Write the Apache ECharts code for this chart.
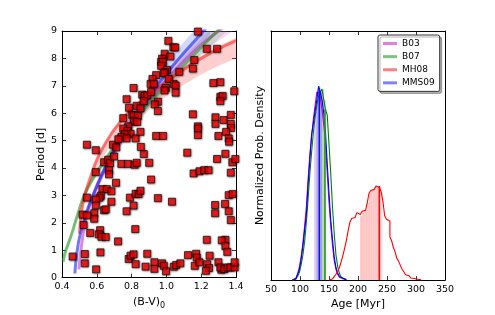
<!DOCTYPE html>
<html><head><meta charset="utf-8">
<script src="https://cdn.jsdelivr.net/npm/echarts@6/dist/echarts.min.js"></script>
<style>html,body{margin:0;padding:0;background:#fff}#c{width:495px;height:315px}</style>
</head><body><div id="c"></div>
<script>
// ---- Left panel: stars ----
const bv = [0.543,0.594,0.642,0.665,0.676,0.699,0.693,0.712,0.741,0.779,0.817,0.829,0.901,0.870,0.853,
1.011,1.181,0.990,1.023,1.040,1.050,0.975,0.970,0.980,0.970,1.003,0.992,0.985,1.074,1.013,0.941,0.920,0.909,0.928,0.996,0.989,1.042,1.053,1.053,0.811,0.861,0.874,0.890,0.912,0.870,0.771,0.785,0.829,0.851,0.951,0.933,0.951,0.752,0.804,0.813,0.836,0.813,0.832,0.781,0.752,0.775,0.794,0.760,0.741,0.771,0.724,0.823,0.851,0.941,0.981,
1.232,1.291,1.160,1.152,1.270,1.310,1.390,1.310,1.323,1.310,1.152,1.282,1.329,1.370,1.370,1.282,1.371,1.181,1.181,1.181,1.299,1.343,1.358,1.360,1.120,1.339,1.291,1.379,1.396,
0.670,0.670,0.594,0.710,0.912,1.156,1.190,1.217,1.242,1.370,
0.632,0.657,0.684,0.623,0.615,0.594,0.594,0.543,0.684,0.642,0.651,0.585,0.585,0.790,0.823,0.840,0.851,0.811,0.771,0.951,1.032,1.280,1.337,1.358,1.381,1.370,1.280,1.358,
0.518,0.543,0.524,0.562,0.619,0.611,0.627,0.651,0.821,0.722,1.232,1.339,1.318,1.339,1.350,0.621,0.461,0.531,0.531,0.596,0.783,0.794,0.811,0.890,0.823,0.880,0.931,0.931,0.975,0.985,0.998,1.042,1.056,1.080,1.124,1.171,1.174,1.163,1.190,1.248,1.234,1.245,1.227,1.299,1.316,1.310,1.333,1.352,1.368,1.392,1.392];
const period = [4.85,4.65,4.21,4.30,4.18,4.42,4.85,4.75,4.15,4.15,4.12,4.19,4.19,4.51,4.77,
8.64,8.98,8.17,8.07,8.40,8.40,7.99,7.87,7.87,7.73,7.58,7.49,7.46,7.51,7.25,7.39,7.25,7.07,7.07,6.92,6.83,7.07,7.01,6.75,6.92,6.68,6.63,6.65,6.77,6.44,6.51,6.20,6.27,6.18,6.42,6.32,6.08,5.82,5.94,5.92,5.90,5.70,5.68,5.52,5.44,5.35,5.25,5.23,5.13,5.08,5.05,5.08,5.32,5.17,5.17,
8.35,8.35,7.94,7.63,7.10,7.13,6.80,6.60,6.63,6.44,5.96,5.85,5.75,5.94,5.61,5.61,5.46,5.52,5.44,5.20,5.17,5.32,5.08,4.96,4.56,4.52,4.33,4.21,4.33,
3.92,3.77,3.85,3.46,3.58,3.80,3.88,3.92,3.92,3.83,
3.23,3.23,3.15,2.99,2.92,2.85,2.63,2.92,2.77,2.46,2.49,2.35,2.15,2.92,3.06,3.05,3.17,2.63,2.42,2.90,2.77,2.65,2.69,3.01,3.05,2.10,2.35,2.42,
2.30,2.27,1.92,1.63,1.73,1.58,1.49,1.48,1.77,1.32,1.38,1.38,1.36,1.15,0.94,0.92,0.77,0.86,0.52,0.30,0.68,0.80,0.85,0.87,0.49,0.40,0.56,0.32,0.52,0.43,0.23,0.40,0.46,0.52,0.82,0.87,0.73,0.43,0.56,0.80,0.49,0.35,0.25,0.56,0.29,0.37,0.31,0.37,0.37,0.37,0.56];

// ---- Left panel: gyrochronology curves ----
const b03X  = [0.497,0.505,0.515,0.53,0.55,0.60,0.65,0.70,0.80,0.90,1.00,1.10,1.20,1.30,1.40];
const b03P  = [0.30,0.80,1.30,1.90,2.45,3.30,4.00,4.60,5.60,6.45,7.20,7.90,8.50,9.00,9.45];
const b03Lo = [0.29,0.77,1.25,1.82,2.35,3.17,3.84,4.42,5.38,6.19,6.91,7.58,8.16,8.64,9.07];
const b03Hi = [0.31,0.83,1.35,1.98,2.55,3.43,4.16,4.78,5.82,6.71,7.49,8.22,8.84,9.36,9.83];

const b07X  = [0.406,0.42,0.453,0.49,0.53,0.60,0.70,0.80,0.90,1.00,1.10,1.20,1.30,1.40];
const b07P  = [0.58,0.95,1.54,2.30,3.05,3.85,4.75,5.60,6.35,7.05,7.75,8.40,9.05,9.65];
const b07Lo = [0.56,0.92,1.49,2.22,2.94,3.71,4.58,5.40,6.12,6.80,7.47,8.10,8.72,9.30];
const b07Hi = [0.60,0.98,1.59,2.38,3.16,3.99,4.92,5.80,6.58,7.30,8.03,8.70,9.38,10.0];

const mh08X  = [0.500,0.505,0.51,0.52,0.53,0.56,0.60,0.65,0.70,0.80,0.90,1.00,1.10,1.20,1.30,1.40];
const mh08P  = [1.60,2.00,2.30,2.70,3.00,3.60,4.30,4.90,5.40,6.15,6.65,7.15,7.60,8.00,8.35,8.65];
const mh08Lo = [1.48,1.85,2.13,2.50,2.78,3.33,3.98,4.54,5.00,5.69,6.16,6.62,7.04,7.41,7.73,8.01];
const mh08Hi = [1.62,2.02,2.33,2.73,3.04,3.64,4.35,4.96,5.46,6.22,6.73,7.24,7.69,8.10,8.45,8.75];

const mms09X  = [0.474,0.48,0.49,0.50,0.52,0.55,0.60,0.65,0.70,0.80,0.90,1.00,1.10,1.20,1.25];
const mms09P  = [0.15,0.60,1.10,1.45,1.95,2.55,3.35,4.05,4.65,5.70,6.60,7.45,8.20,8.90,9.25];
const mms09Lo = [0.14,0.58,1.05,1.39,1.87,2.45,3.20,3.88,4.45,5.45,6.30,7.10,7.85,8.50,8.85];
const mms09Hi = [0.16,0.63,1.15,1.52,2.05,2.67,3.50,4.22,4.86,5.95,6.90,7.80,8.60,9.30,9.65];

const bvTicks = [0.4,0.6,0.8,1.0,1.2,1.4];
const periodTicks = [0,1,2,3,4,5,6,7,8,9];

// ---- Right panel: age histograms (bin width 3 Myr) ----
const binW = 3;
const youngStart = 87;
const histB03   = [0.5,1.0,2.0,3.5,7,12,19,28,38,52,65,74,83,90,97,96,94,88,80,70,55,40,28,18,10,5.5,3,1.5,0.7,0.3,0.1];
const histB07   = [0.2,0.5,1.0,2.0,4.0,8,13,20,30,42,55,66,76,84,90,95,97,98.5,93,88,85,70,55,38,24,13,7,3.5,1.5,0.7,0.3];
const histMMS09 = [0.3,0.8,1.5,3.0,5.5,11,17.5,26,34,50,62,75,81,87,93,100,97,93,86,76,60,45,31,21,12,6.5,3.5,1.8,0.9,0.4,0.2];
const mh08Start = 150;
const histMH08  = [0.3,0.6,1.0,1.8,3.0,4.5,6.5,9.5,12.8,16.5,20.5,25.5,29.8,31.8,32.3,33.0,34.8,33.8,33.2,35.5,36.0,36.4,40.0,44.8,46.2,46.8,47.3,48.5,47.8,48.6,45.5,40.5,33.2,31.4,30.5,22.2,20.3,16.8,14.5,11.2,9.8,7.6,5.6,4.3,2.8,2.2,1.5,1.1,0.8,0.5,0.4,0.2,0.1];
// shaded (1-sigma) ranges and medians
const rangeB03 = [124,137], rangeMMS09 = [128,138], rangeB07 = [136,145];
const rangeMH08 = [203.5,237], rangeMH08b = [237,242.5];
const medMMS09 = [133.3, 99], medB07 = [143, 88], medMH08 = [236.8, 48.5];
const ageTicks = [50,100,150,200,250,300,350];

// ---------------------------------------------
const FONT = 'DejaVu Sans';
function stepData(start, vals){
  const d=[[start,0]];
  vals.forEach((v,i)=>d.push([start+i*binW, v]));
  d.push([start+vals.length*binW, 0]);
  return d;
}
function shadeData(start, vals, rng){
  const d=[];
  vals.forEach((v,i)=>{const l=start+i*binW, r=l+binW; const cl=Math.max(l,rng[0]), cr=Math.min(r,rng[1]); if(cr>cl) d.push([cl,cr,v]);});
  return d;
}
function bandSeries(xs, lo, hi, color){
  return {type:'custom', xAxisIndex:0, yAxisIndex:0, clip:true, silent:true, z:1,
    data:[0],
    renderItem:(p,api)=>{
      const pts=[];
      for(let i=0;i<xs.length;i++) pts.push(api.coord([xs[i],hi[i]]));
      for(let i=xs.length-1;i>=0;i--) pts.push(api.coord([xs[i],lo[i]]));
      return {type:'polygon', shape:{points:pts}, style:{fill:color}};
    }};
}
function curveSeries(name, xs, ys, color){
  return {name, type:'line', xAxisIndex:0, yAxisIndex:0, data:xs.map((x,i)=>[x,ys[i]]),
    smooth:0.3, showSymbol:false, symbol:'none', clip:true, z:2,
    lineStyle:{color, width:3}, itemStyle:{color}};
}
function shadeSeries(start, vals, rng, color){
  return {type:'custom', xAxisIndex:2, yAxisIndex:2, silent:true, z:1, clip:true,
    encode:{x:[0,1], y:2},
    data:shadeData(start, vals, rng),
    renderItem:(p,api)=>{
      const a=api.coord([api.value(0),0]), b=api.coord([api.value(1),api.value(2)]);
      return {type:'rect', shape:{x:a[0], y:b[1], width:b[0]-a[0], height:a[1]-b[1]}, style:{fill:color}};
    }};
}
function histSeries(start, vals, color){
  return {type:'line', xAxisIndex:2, yAxisIndex:2, step:'end', data:stepData(start, vals),
    showSymbol:false, symbol:'none', silent:true, z:3, lineStyle:{color, width:1.1}};
}
function medSeries(m, color){
  return {type:'line', xAxisIndex:2, yAxisIndex:2, data:[[m[0],0],[m[0],m[1]]], showSymbol:false, symbol:'none', silent:true, z:4,
    lineStyle:{color, width:1.6}};
}

const axisLine = {show:true, onZero:false, lineStyle:{color:'#000', width:1}};
const tick = {show:true, inside:true, length:4, lineStyle:{color:'#000', width:0.8}};
const labelStyle = {color:'#000', fontFamily:FONT, fontSize:9.5};
const nameStyle = {color:'#000', fontFamily:FONT, fontSize:11};

const cMag='rgba(200,40,200,0.55)', cGrn='rgba(40,150,40,0.6)', cRed='rgba(255,40,40,0.6)', cBlu='rgba(20,40,240,0.6)';

const option = {
  animation:false,
  backgroundColor:'#fff',
  grid:[
    {left:62, top:31, width:174, height:252},
    {left:271, top:31, width:174, height:252}
  ],
  xAxis:[
    {type:'value', gridIndex:0, min:0.4, max:1.4, interval:0.2, position:'bottom',
      axisLine, axisTick:tick, splitLine:{show:false},
      axisLabel:{...labelStyle, margin:4, formatter:v=>bvTicks.includes(+v.toFixed(1))?v.toFixed(1):''},
      name:'(B-V){s|0}', nameLocation:'middle', nameGap:11,
      nameTextStyle:{...nameStyle, rich:{s:{fontFamily:FONT, fontSize:8, color:'#000', verticalAlign:'bottom', padding:[8,0,0,0]}}}},
    {type:'value', gridIndex:0, min:0.4, max:1.4, interval:0.2, position:'top',
      axisLine, axisTick:tick, axisLabel:{show:false}, splitLine:{show:false}},
    {type:'value', gridIndex:1, min:50, max:350, interval:50, position:'bottom',
      axisLine, axisTick:tick, splitLine:{show:false},
      axisLabel:{...labelStyle, margin:4, formatter:v=>ageTicks.includes(v)?String(v):''},
      name:'Age [Myr]', nameLocation:'middle', nameGap:12, nameTextStyle:nameStyle},
    {type:'value', gridIndex:1, min:50, max:350, interval:50, position:'top',
      axisLine, axisTick:tick, axisLabel:{show:false}, splitLine:{show:false}}
  ],
  yAxis:[
    {type:'value', gridIndex:0, min:0, max:9, interval:1, position:'left',
      axisLine, axisTick:tick, splitLine:{show:false},
      axisLabel:{...labelStyle, margin:5, formatter:v=>periodTicks.includes(v)?String(v):''},
      name:'Period [d]', nameLocation:'middle', nameGap:13, nameTextStyle:nameStyle},
    {type:'value', gridIndex:0, min:0, max:9, interval:1, position:'right',
      axisLine, axisTick:tick, axisLabel:{show:false}, splitLine:{show:false}},
    {type:'value', gridIndex:1, min:0, max:128.5, position:'left',
      axisLine, axisTick:{show:false}, axisLabel:{show:false}, splitLine:{show:false},
      name:'Normalized Prob. Density', nameLocation:'middle', nameGap:5, nameTextStyle:nameStyle},
    {type:'value', gridIndex:1, min:0, max:128.5, position:'right',
      axisLine, axisTick:{show:false}, axisLabel:{show:false}, splitLine:{show:false}}
  ],
  legend:{
    data:[
      {name:'B03', itemStyle:{color:'#dd80dd'}},
      {name:'B07', itemStyle:{color:'#80c080'}},
      {name:'MH08', itemStyle:{color:'#ff8080'}},
      {name:'MMS09', itemStyle:{color:'#8080ff'}}
    ],
    orient:'vertical', left:378, top:35, icon:'rect', itemWidth:14, itemHeight:3, itemGap:4,
    padding:[4,5,4,5], textStyle:{fontFamily:FONT, fontSize:9, color:'#000', lineHeight:9.1},
    backgroundColor:'#fff', borderColor:'#333', borderWidth:1, borderRadius:2,
    shadowColor:'rgba(0,0,0,0.3)', shadowBlur:0, shadowOffsetX:2, shadowOffsetY:2,
    selectedMode:false
  },
  series:[
    bandSeries(b03X,b03Lo,b03Hi,'rgba(220,80,220,0.22)'),
    bandSeries(b07X,b07Lo,b07Hi,'rgba(60,160,60,0.2)'),
    bandSeries(mh08X,mh08Lo,mh08Hi,'rgba(255,60,60,0.25)'),
    bandSeries(mms09X,mms09Lo,mms09Hi,'rgba(60,80,240,0.22)'),
    curveSeries('B03', b03X, b03P, cMag),
    curveSeries('B07', b07X, b07P, cGrn),
    curveSeries('MH08', mh08X, mh08P, cRed),
    curveSeries('MMS09', mms09X, mms09P, cBlu),
    {type:'scatter', xAxisIndex:0, yAxisIndex:0, data:bv.map((x,i)=>[x,period[i]]), symbol:'rect', symbolSize:7, z:5,
      silent:true, clip:false,
      itemStyle:{color:'#ff0000', borderColor:'#000', borderWidth:0.8, shadowBlur:2, shadowColor:'rgba(0,0,0,0.6)', shadowOffsetX:0.5, shadowOffsetY:0.5}},
    // right panel
    shadeSeries(youngStart, histB03, rangeB03, 'rgba(190,150,235,0.45)'),
    shadeSeries(youngStart, histMMS09, rangeMMS09, 'rgba(110,110,235,0.4)'),
    shadeSeries(youngStart, histB07, rangeB07, 'rgba(90,170,90,0.45)'),
    shadeSeries(mh08Start, histMH08, rangeMH08, 'rgba(255,120,120,0.42)'),
    shadeSeries(mh08Start, histMH08, rangeMH08b, 'rgba(255,140,140,0.25)'),
    histSeries(youngStart, histB07, '#008000'),
    histSeries(youngStart, histB03, '#c000c0'),
    histSeries(youngStart, histMMS09, '#0000ff'),
    histSeries(mh08Start, histMH08, '#ff0000'),
    medSeries(medB07, '#2a9a2a'),
    medSeries(medMMS09, '#1010ff'),
    medSeries(medMH08, '#ff0000')
  ]
};
const chart = echarts.init(document.getElementById('c'), null, {renderer:'canvas'});
chart.setOption(option);
</script></body></html>
